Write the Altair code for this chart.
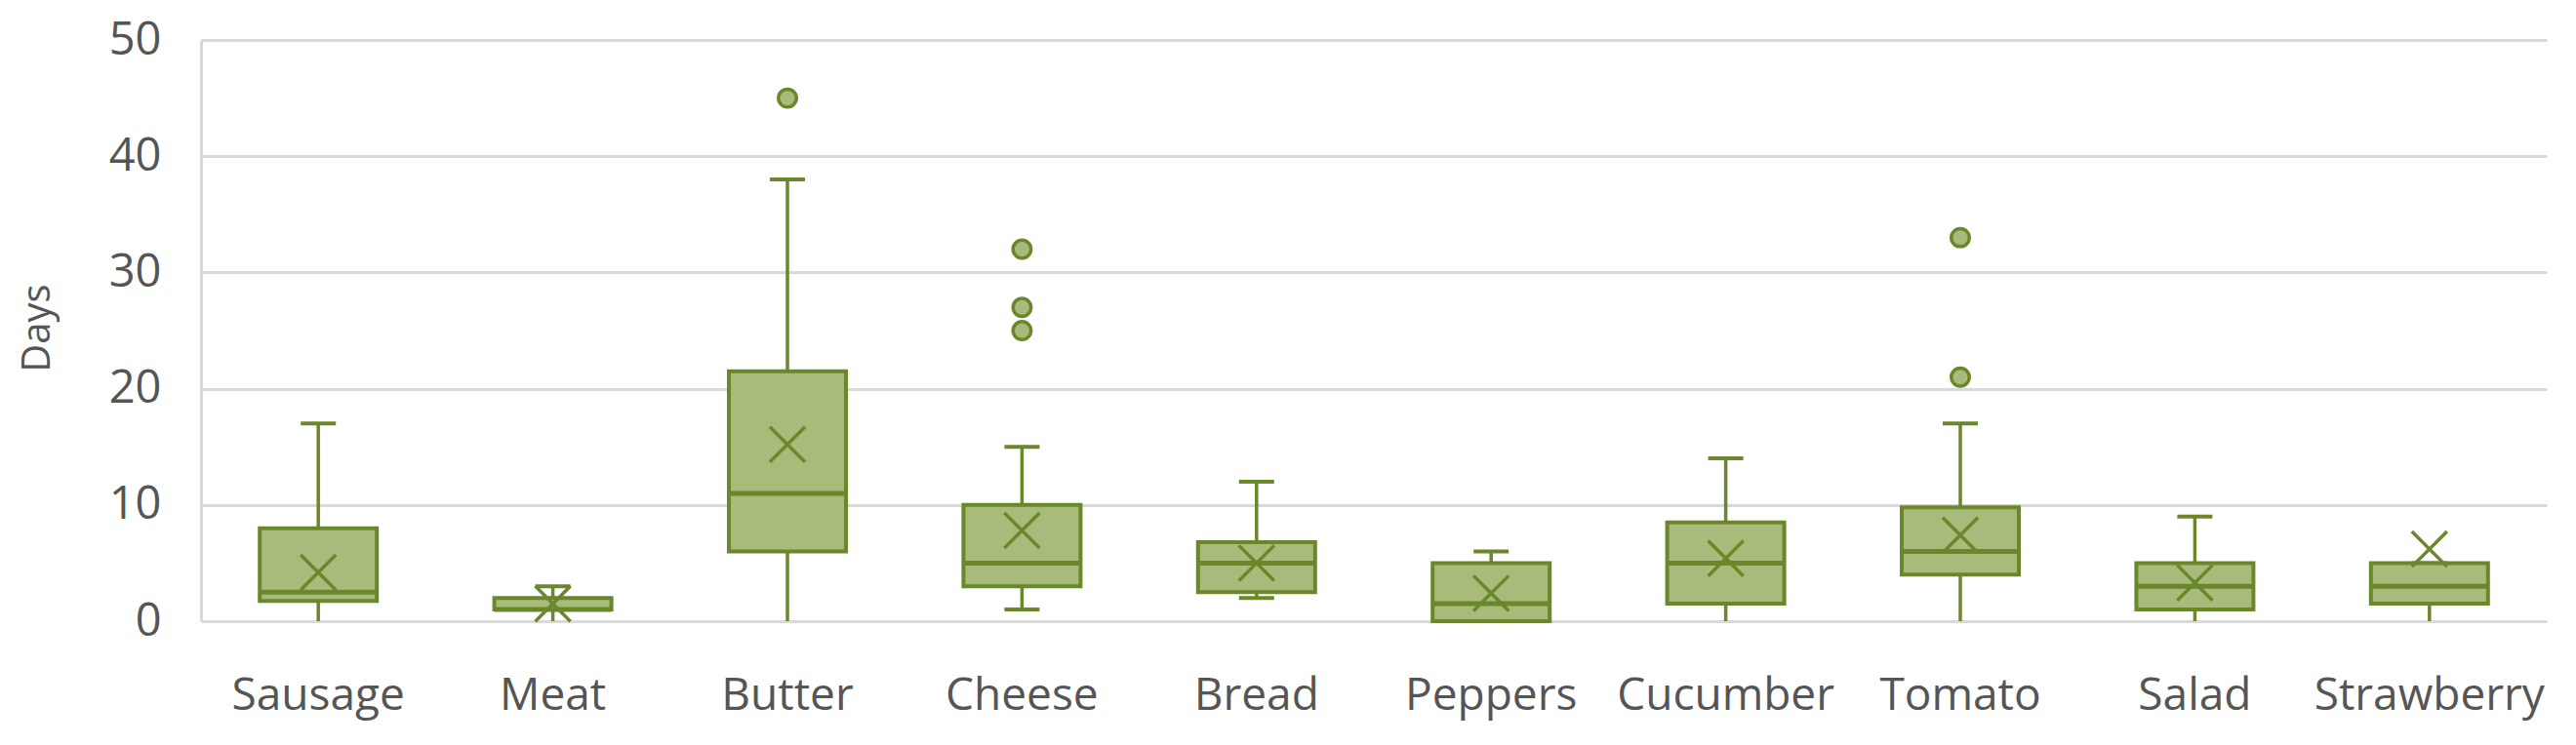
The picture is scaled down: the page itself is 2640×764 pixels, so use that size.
import altair as alt
import pandas as pd

categories = ["Sausage", "Meat", "Butter", "Cheese", "Bread", "Peppers",
              "Cucumber", "Tomato", "Salad", "Strawberry"]
q_min = [0, 0, 0, 1, 2, 0, 0, 0, 0, 0]
q1 = [1.75, 1, 6, 3, 2.5, 0, 1.5, 4, 1, 1.5]
median = [2.5, 1, 11, 5, 5, 1.5, 5, 6, 3, 3]
q3 = [8, 2, 21.5, 10, 6.8, 5, 8.5, 9.8, 5, 5]
q_max = [17, 3, 38, 15, 12, 6, 14, 17, 9, 5]
mean = [4.2, 1.5, 15.2, 7.8, 5.0, 2.4, 5.4, 7.4, 3.3, 6.2]

outlier_cat = ["Butter", "Cheese", "Cheese", "Cheese", "Tomato", "Tomato"]
outlier_val = [45, 32, 27, 25, 33, 21]

y_ticks = [0, 10, 20, 30, 40, 50]

FILL = "#a9bb7a"
STROKE = "#6a872b"
TEXT = "#555555"
GRID = "#d9d9d9"
FONT = "Open Sans"

df = pd.DataFrame({"cat": categories, "lo": q_min, "q1": q1, "med": median,
                   "q3": q3, "hi": q_max, "mean": mean})
out = pd.DataFrame({"cat": outlier_cat, "val": outlier_val})

x_enc = alt.X(
    "cat:N", sort=categories,
    scale=alt.Scale(domain=categories, paddingInner=0, paddingOuter=0),
    axis=alt.Axis(title=None, labelAngle=0, ticks=False, domain=False, grid=False,
                  labelPadding=90, labelBaseline="alphabetic", labelFontSize=46,
                  labelColor=TEXT, labelFont=FONT, labelLimit=0),
)
y_scale = alt.Scale(domain=[0, 50], nice=False, zero=True)
y_axis = alt.Axis(values=y_ticks, title="Days", grid=True, gridColor=GRID, gridWidth=3,
                  domain=True, domainColor=GRID, domainWidth=3, ticks=False,
                  labelPadding=41, labelFontSize=47, labelColor=TEXT, labelFont=FONT,
                  titleFontSize=40, titleFont=FONT, titleColor=TEXT, titleFontWeight="normal",
                  titleAngle=-90, titleX=-156, titleY=295, titleAlign="center",
                  titleBaseline="alphabetic")


def Y(field):
    return alt.Y(field, scale=y_scale, axis=y_axis)


base = alt.Chart(df).encode(x=x_enc)

lower_whisker = base.mark_rule(color=STROKE, strokeWidth=3.5).encode(y=Y("lo:Q"), y2="q1:Q")
upper_whisker = base.mark_rule(color=STROKE, strokeWidth=3.5).encode(y=Y("q3:Q"), y2="hi:Q")
upper_cap = base.mark_tick(color=STROKE, size=36, thickness=4, opacity=1).encode(y=Y("hi:Q"))
lower_cap = base.transform_filter(alt.datum.lo > 0).mark_tick(
    color=STROKE, size=36, thickness=4, opacity=1).encode(y=Y("lo:Q"))
box = base.mark_bar(size=120, fill=FILL, stroke=STROKE, strokeWidth=4, opacity=1).encode(
    y=Y("q1:Q"), y2="q3:Q")
med = base.mark_tick(color=STROKE, size=120, thickness=5, opacity=1).encode(y=Y("med:Q"))
mean_pt = base.mark_point(shape="M-1,-1L1,1M-1,1L1,-1", filled=False, size=1300,
                          strokeWidth=3.5, color=STROKE, opacity=1).encode(y=Y("mean:Q"))
outliers = alt.Chart(out).mark_point(shape="circle", filled=True, fill=FILL, stroke=STROKE,
                                     strokeWidth=3.5, size=340, opacity=1).encode(
    x=x_enc, y=Y("val:Q"))

chart = alt.layer(lower_whisker, upper_whisker, upper_cap, lower_cap, box, med, mean_pt,
                  outliers).properties(
    width=2404, height=596,
    autosize=alt.AutoSizeParams(type="none"),
    padding={"left": 198, "top": 33, "right": 14, "bottom": 110},
    background="white",
).configure_view(stroke=None)

chart.save("out.html", embed_options={"renderer": "svg", "actions": False})
